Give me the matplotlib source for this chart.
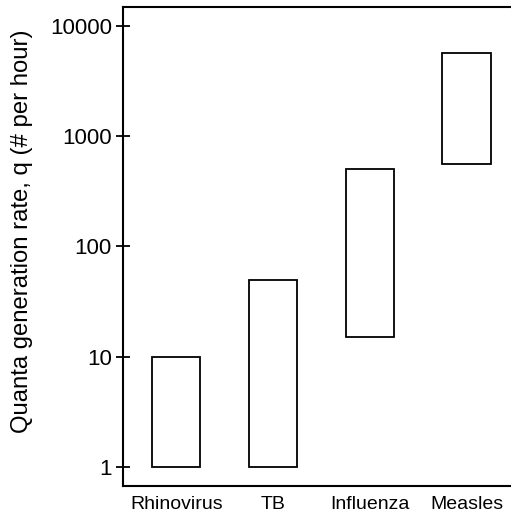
import numpy as np
import matplotlib.pyplot as plt
from matplotlib.ticker import FixedLocator, NullLocator

plt.rcParams['font.family'] = ['Liberation Sans', 'DejaVu Sans']

diseases = ['Rhinovirus', 'TB', 'Influenza', 'Measles']
q_low = [1, 1, 15, 560]
q_high = [10, 50, 500, 5600]
y_ticks = [1, 10, 100, 1000, 10000]

fig = plt.figure(figsize=(5.11, 5.14), dpi=100)
ax = fig.add_axes([0.2407, 0.0545, 0.7593, 0.9325])

x = np.arange(len(diseases))
heights = np.array(q_high) - np.array(q_low)
ax.bar(x, heights, bottom=q_low, width=0.5, facecolor='white',
       edgecolor='black', linewidth=1.3)

ax.set_yscale('log')
ax.set_ylim(10**-0.172, 10**4.172)
ax.set_xlim(-0.55, 3.458)
ax.yaxis.set_major_locator(FixedLocator(y_ticks))
ax.yaxis.set_minor_locator(NullLocator())
ax.set_yticklabels([str(t) for t in y_ticks], fontsize=16)
ax.set_xticks(x)
ax.set_xticklabels(diseases, fontsize=14)
ax.tick_params(axis='y', direction='inout', length=10, width=1.3, pad=3)
ax.tick_params(axis='x', length=0, pad=7.5)

ax.set_ylabel('Quanta generation rate, q (# per hour)', fontsize=17.2)
ax.yaxis.set_label_coords(-0.232, 0.531)

for s in ['left', 'top', 'bottom']:
    ax.spines[s].set_linewidth(1.5)
ax.spines['right'].set_visible(False)

fig.savefig('out.png', dpi=100)
